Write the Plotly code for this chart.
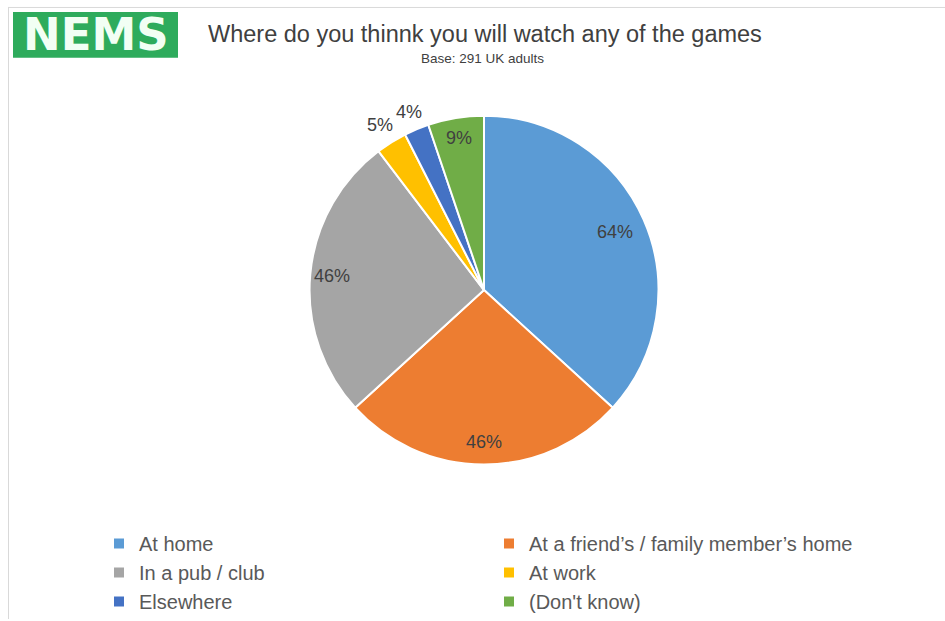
import math
import plotly.graph_objects as go

# Survey answers (multiple response, base 291 UK adults)
categories = [
    "At home",
    "At a friend\u2019s / family member\u2019s home",
    "In a pub / club",
    "At work",
    "Elsewhere",
    "(Don't know)",
]
values = [64, 46, 46, 5, 4, 9]
colors = ["#5B9BD5", "#ED7D31", "#A5A5A5", "#FFC000", "#4472C4", "#70AD47"]
# radial position of each data label, as a fraction of the pie radius
label_radius = [0.82, 0.87, 0.87, 1.12, 1.11, 0.885]

W, H = 945, 621
cx_px, cy_px, r_px = 484, 291, 175

fig = go.Figure()
fig.add_trace(go.Pie(
    labels=categories,
    values=values,
    sort=False,
    direction="clockwise",
    rotation=0,
    marker=dict(colors=colors, line=dict(color="white", width=2)),
    textinfo="none",
    hoverinfo="label+value",
    domain=dict(x=[(cx_px - r_px) / W, (cx_px + r_px) / W],
                y=[1 - (cy_px + r_px) / H, 1 - (cy_px - r_px) / H]),
))

# data labels placed at each slice's mid angle
annotations = []
total = sum(values)
cum = 0
for v, f in zip(values, label_radius):
    mid = (cum + v / 2) / total * 2 * math.pi
    cum += v
    x_px = cx_px + f * r_px * math.sin(mid)
    y_px = cy_px - f * r_px * math.cos(mid)
    annotations.append(dict(
        x=x_px / W, y=1 - y_px / H, xref="paper", yref="paper",
        xanchor="center", yanchor="middle",
        text=f"{v}%", showarrow=False,
        font=dict(family="Liberation Sans, Arial, sans-serif", size=18, color="#404040"),
    ))

# title, subtitle and logo text
annotations += [
    dict(x=206 / W, y=1 - 34 / H, xref="paper", yref="paper", xanchor="left", yanchor="middle",
         text="Where do you thinnk you will watch any of the games", showarrow=False,
         font=dict(family="Liberation Sans, Arial, sans-serif", size=23.5, color="#404040")),
    dict(x=483 / W, y=1 - 59 / H, xref="paper", yref="paper", xanchor="center", yanchor="middle",
         text="Base: 291 UK adults", showarrow=False,
         font=dict(family="Liberation Sans, Arial, sans-serif", size=13.5, color="#404040")),
    dict(x=96 / W, y=1 - 35 / H, xref="paper", yref="paper", xanchor="center", yanchor="middle",
         text="<b>NEMS</b>", showarrow=False,
         font=dict(family="DejaVu Sans, sans-serif", size=45, color="#F2FFF4")),
]

shapes = [
    # logo box
    dict(type="rect", xref="paper", yref="paper",
         x0=13 / W, x1=178 / W, y0=1 - 58 / H, y1=1 - 12 / H,
         fillcolor="#2EAB5C", line=dict(width=0), layer="below"),
    # chart frame (top and left edges)
    dict(type="line", xref="paper", yref="paper",
         x0=8 / W, x1=1, y0=1 - 7.5 / H, y1=1 - 7.5 / H,
         line=dict(color="#D9D9D9", width=1)),
    dict(type="line", xref="paper", yref="paper",
         x0=8.5 / W, x1=8.5 / W, y0=0, y1=1 - 7 / H,
         line=dict(color="#D9D9D9", width=1)),
]

fig.update_layout(
    width=W, height=H,
    margin=dict(l=0, r=0, t=0, b=0),
    paper_bgcolor="white",
    plot_bgcolor="white",
    annotations=annotations,
    shapes=shapes,
    showlegend=True,
    legend=dict(
        orientation="h",
        x=99 / W, y=1 - 526 / H, xanchor="left", yanchor="top",
        entrywidth=345, entrywidthmode="pixels",
        font=dict(family="Liberation Sans, Arial, sans-serif", size=20, color="#595959"),
        tracegroupgap=0,
        itemwidth=30,
    ),
)

fig.write_html("out.html")
